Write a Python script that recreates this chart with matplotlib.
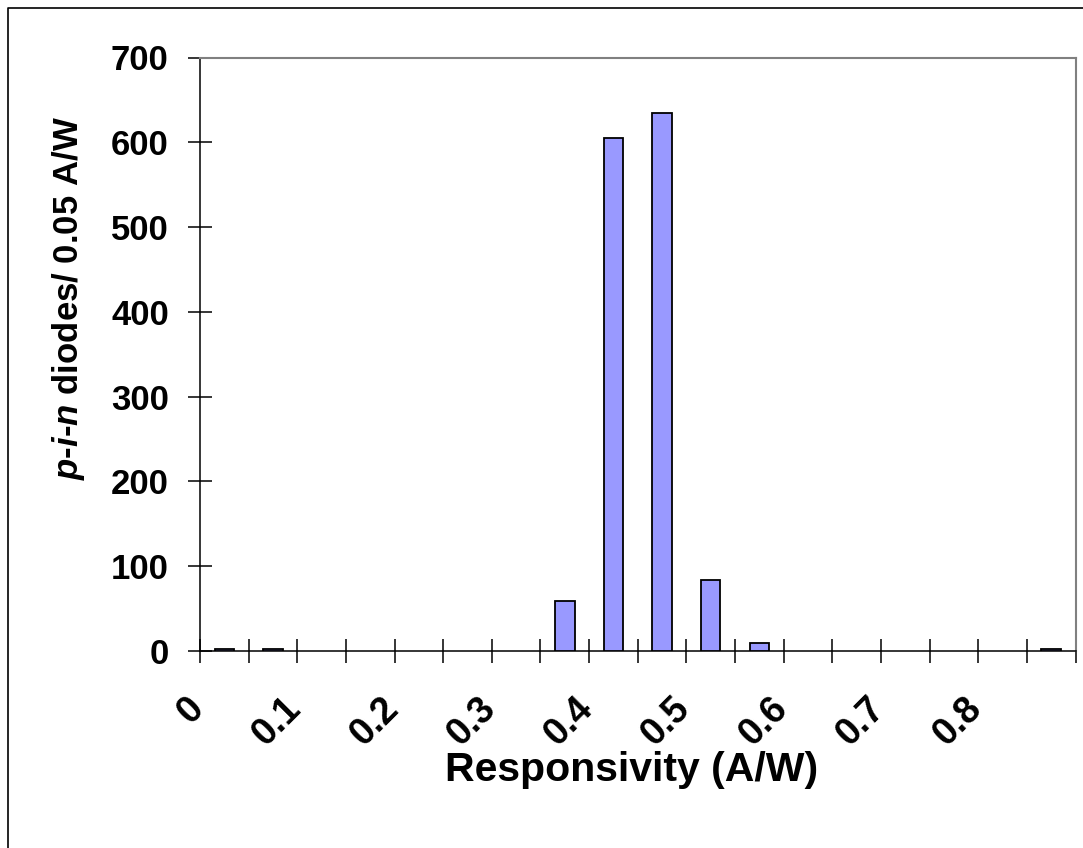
import matplotlib
matplotlib.use('Agg')
import matplotlib.pyplot as plt
import numpy as np
from matplotlib.lines import Line2D
from matplotlib.transforms import ScaledTranslation

# Data: counts per 0.05 A/W responsivity bin (bins 0-0.05 ... 0.85-0.9)
bin_starts = ["0", "0.05", "0.1", "0.15", "0.2", "0.25", "0.3", "0.35", "0.4",
              "0.45", "0.5", "0.55", "0.6", "0.65", "0.7", "0.75", "0.8", "0.85"]
counts = [2, 2, 0, 0, 0, 0, 0, 59, 605, 634, 84, 9, 0, 0, 0, 0, 0, 2]
x_tick_labels = ["0", "0.1", "0.2", "0.3", "0.4", "0.5", "0.6", "0.7", "0.8"]
y_ticks = [0, 100, 200, 300, 400, 500, 600, 700]

plt.rcParams['font.family'] = ['Liberation Sans', 'DejaVu Sans']
plt.rcParams['font.weight'] = 'bold'
plt.rcParams['mathtext.fontset'] = 'custom'
plt.rcParams['mathtext.it'] = 'Liberation Sans:italic:bold'
plt.rcParams['mathtext.rm'] = 'Liberation Sans:bold'

W, H = 1083, 848
fig = plt.figure(figsize=(W / 100, H / 100), dpi=100)
L, R, B, T = 200, 1075.5, 651, 57.5
ax = fig.add_axes([L / W, 1 - B / H, (R - L) / W, (B - T) / H])

n = len(bin_starts)
pos = np.arange(n) + 0.5
vals = np.array(counts)
mask = vals > 0
ax.bar(pos[mask], vals[mask], width=0.4, color='#9999FF', edgecolor='black',
       linewidth=1.3, zorder=3)

ax.set_xlim(0, n)
ax.set_ylim(0, 700)
ax.set_yticks(y_ticks)
ax.set_yticklabels([str(v) for v in y_ticks])
ax.set_xticks(np.arange(0, 17, 2))
ax.set_xticklabels(x_tick_labels, rotation=45, ha='right', va='top')
ax.set_xticks(np.arange(0, n + 1), minor=True)

ax.tick_params(axis='both', which='both', direction='inout', length=17, width=1.1, color='black')
ax.tick_params(axis='x', which='major', pad=20, labelsize=27)
ax.tick_params(axis='y', which='major', pad=14, labelsize=25)

offset = ScaledTranslation(11 / 100, 0, fig.dpi_scale_trans)
for lab in ax.get_xticklabels():
    lab.set_transform(lab.get_transform() + offset)

for s in ['left', 'bottom']:
    ax.spines[s].set_color('black')
    ax.spines[s].set_linewidth(1.1)
for s in ['top', 'right']:
    ax.spines[s].set_color('#808080')
    ax.spines[s].set_linewidth(1.5)

ax.set_xlabel('Responsivity (A/W)', fontsize=29.5, fontweight='bold')
ax.xaxis.set_label_coords((632 - L) / (R - L), (B - 781) / (B - T))
ax.xaxis.label.set_verticalalignment('baseline')

ax.set_ylabel(r'$p$-$i$-$n$ diodes/ 0.05 A/W', fontsize=25, fontweight='bold')
ax.yaxis.set_label_coords((69 - L) / (R - L), (B - 298) / (B - T))
ax.yaxis.label.set_verticalalignment('center')

# outer chart frame (cropped at right and bottom)
fx = 7.5 / W
fy = 1 - 7.5 / H
fig.add_artist(Line2D([fx, fx, 1.0], [0.0, fy, fy], transform=fig.transFigure,
                      color='black', linewidth=1.2))

fig.savefig('out.png', dpi=100)
